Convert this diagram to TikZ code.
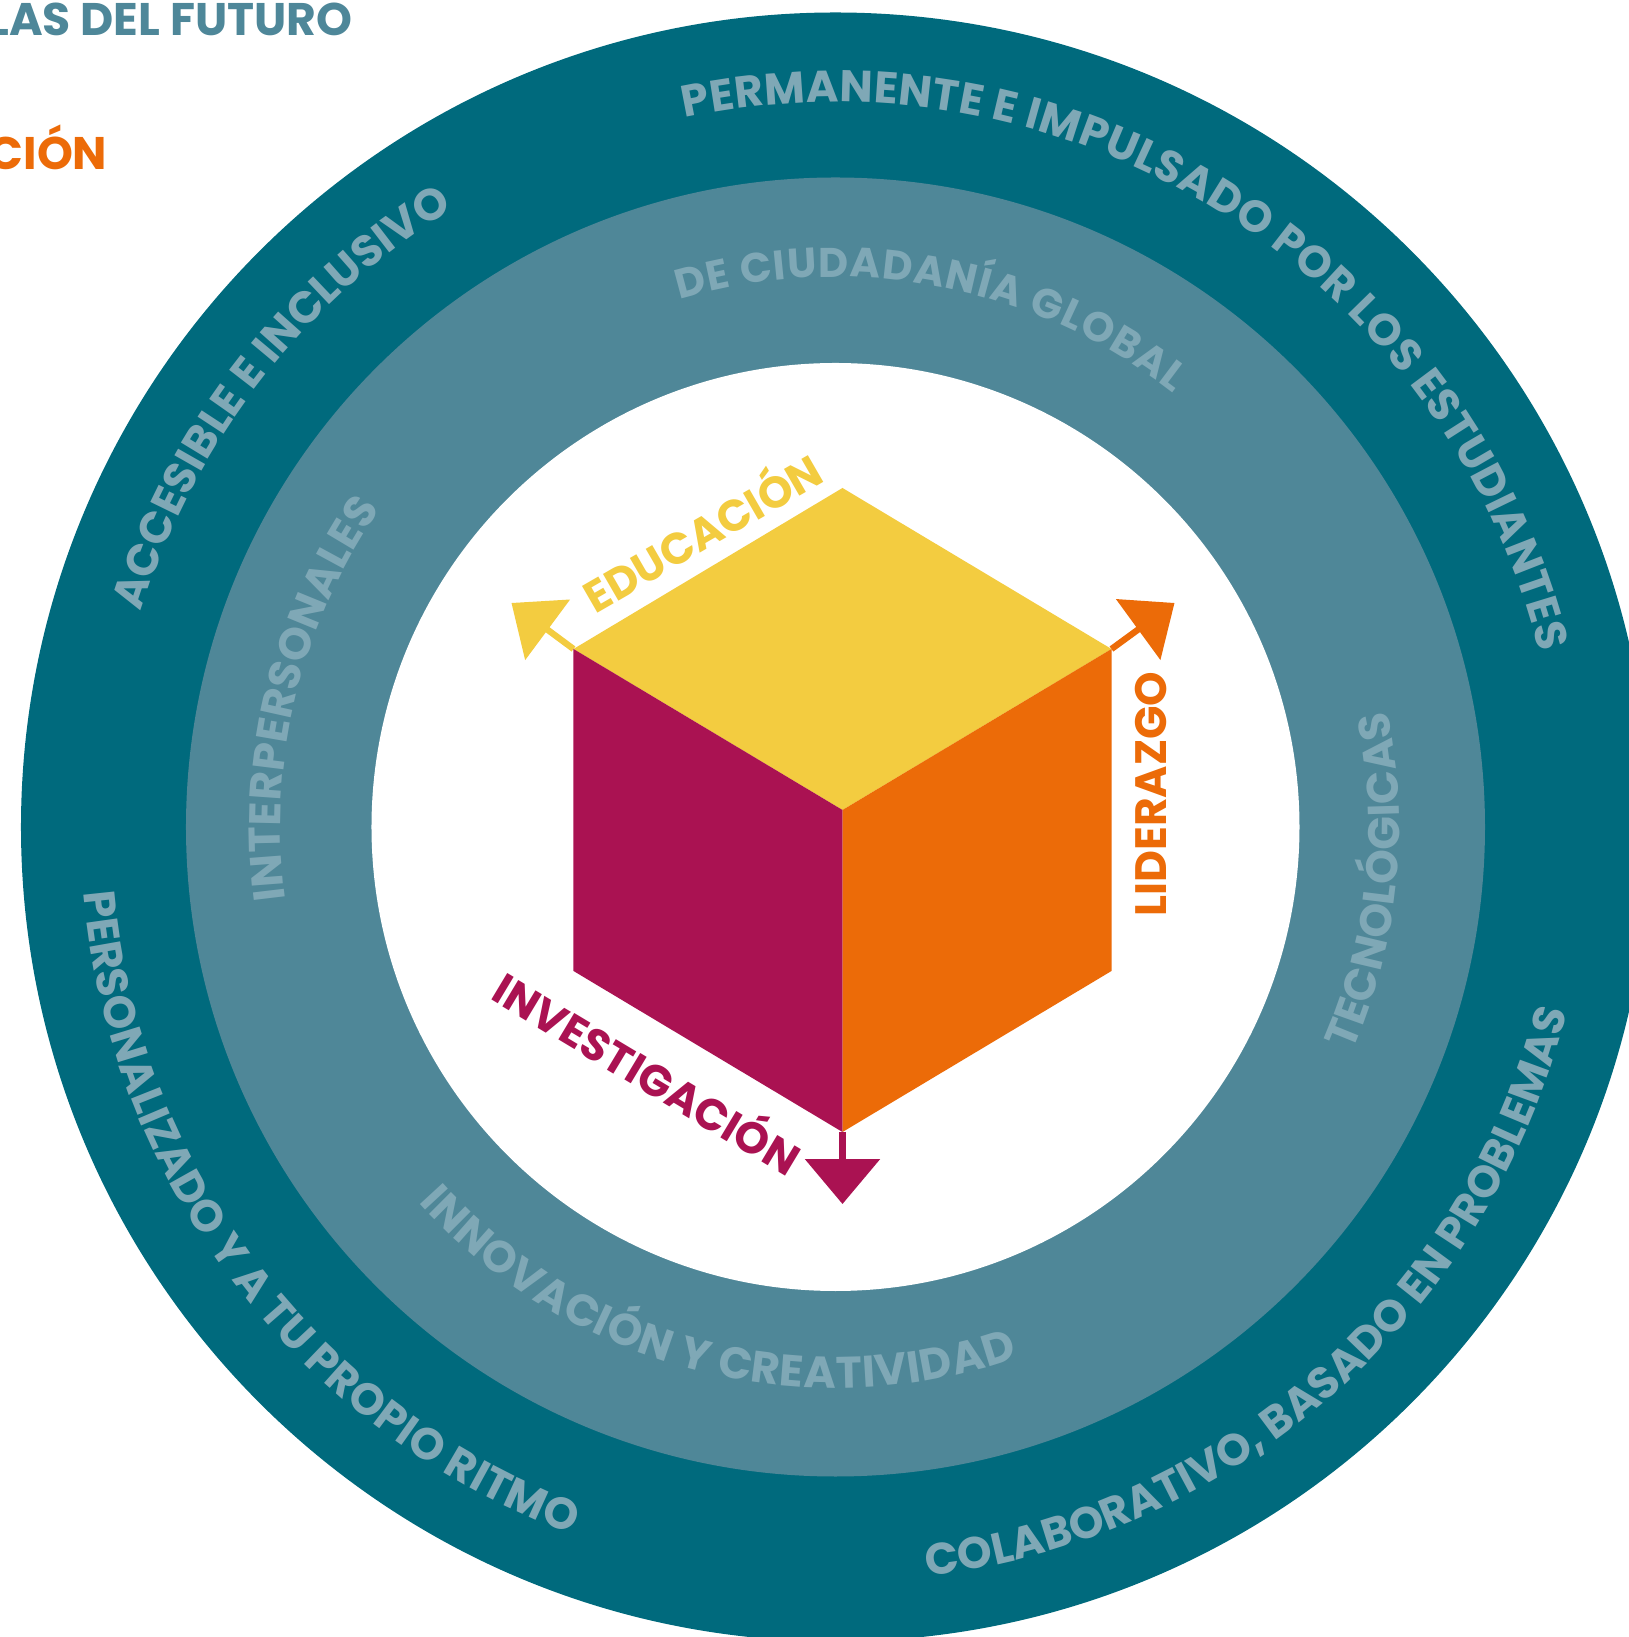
\documentclass[tikz,border=0pt]{standalone}
\usepackage{fontspec}
\setmainfont{Poppins}
\usetikzlibrary{arrows.meta,decorations.text}
\definecolor{outerring}{RGB}{0,106,125}
\definecolor{midring}{RGB}{79,135,152}
\definecolor{ringtext}{RGB}{127,168,182}
\definecolor{titleblue}{RGB}{78,135,153}
\definecolor{cubeyellow}{RGB}{243,204,64}
\definecolor{cubemagenta}{RGB}{170,18,82}
\definecolor{cubeorange}{RGB}{236,107,8}
\newcommand{\ringlabel}[5][12.6]{\path[decorate,decoration={text along path,text align={fit to path},
  text color=ringtext,text={|\fontsize{#1}{14}\selectfont\bfseries|#5{\hbox{}}}}] (#3:#2) arc[start angle=#3,end angle=#4,radius=#2];}
\begin{document}
\begin{tikzpicture}[lab/.style={font=\fontsize{12.5}{14}\selectfont\bfseries},
    title/.style={font=\fontsize{13}{15}\selectfont\bfseries,anchor=base east,inner sep=0pt},
    axis/.style={line width=1.8pt,-{Triangle[width=7.4mm,length=4.5mm]}}]
    \useasboundingbox (-8.355,-8.10) rectangle (7.935,8.27);

    \fill[outerring] (0,0) circle (8.145);
    \fill[midring] (0,0) circle (6.495);
    \fill[white] (0,0) circle (4.64);

    \node[title,text=titleblue] (t1) at (-4.825,7.91) {LAS DEL FUTURO};
    \node[title,text=cubeorange] (t2) at (-7.275,6.57) {ACIÓN};

    \ringlabel{7.25}{102}{14}{PERMANENTE E IMPULSADO POR LOS ESTUDIANTES}
    \ringlabel{7.27}{162.8}{122.3}{ACCESIBLE E INCLUSIVO}
    \ringlabel{7.55}{185}{249.5}{PERSONALIZADO Y A TU PROPIO RITMO}
    \ringlabel{7.55}{277}{345.3}{COLABORATIVO, BASADO EN PROBLEMAS}
    \ringlabel[11.8]{5.5}{106.5}{52}{DE CIUDADANÍA GLOBAL}
    \ringlabel{5.55}{187.5}{145}{INTERPERSONALES}
    \ringlabel{5.64}{336.5}{371.6}{TECNOLÓGICAS}
    \ringlabel{5.61}{222}{289}{INNOVACIÓN Y CREATIVIDAD}

    \coordinate (top) at (0.07,3.39);
    \coordinate (lft) at (-2.62,1.78);
    \coordinate (rgt) at (2.76,1.78);
    \coordinate (mid) at (0.07,0.17);
    \coordinate (lbot) at (-2.62,-1.44);
    \coordinate (rbot) at (2.76,-1.44);
    \coordinate (bot) at (0.07,-3.05);
    \coordinate (edutip) at (-3.24,2.24);
    \coordinate (lidtip) at (3.39,2.24);
    \coordinate (invtip) at (0.07,-3.77);

    \draw[axis,cubeyellow] (lft) -- (edutip);
    \draw[axis,cubeorange] (rgt) -- (lidtip);
    \draw[axis,cubemagenta] (bot) -- (invtip);

    \fill[cubeyellow] (top) -- (rgt) -- (mid) -- (lft) -- cycle;
    \fill[cubemagenta] (lft) -- (mid) -- (bot) -- (lbot) -- cycle;
    \fill[cubeorange] (mid) -- (rgt) -- (rbot) -- (bot) -- cycle;

    \node[lab,text=cubeyellow,rotate=30] (edu) at (-1.35,2.98) {EDUCACIÓN};
    \node[lab,text=cubeorange,rotate=90] (lid) at (3.16,0.33) {LIDERAZGO};
    \node[lab,text=cubemagenta,rotate=-31] (inv) at (-1.86,-2.43) {INVESTIGACIÓN};
\end{tikzpicture}
\end{document}
